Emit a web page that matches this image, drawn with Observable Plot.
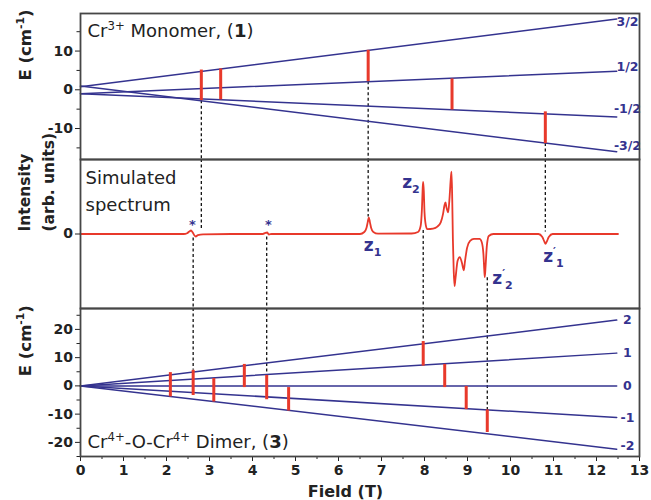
<!DOCTYPE html>
<html><head><meta charset="utf-8">
<script src="https://cdn.jsdelivr.net/npm/d3@7"></script>
<script src="https://cdn.jsdelivr.net/npm/@observablehq/plot@0.6"></script>
<style>
body{margin:0;background:#fff;}
#chart{position:relative;width:651px;height:500px;overflow:hidden;}
#chart > div{position:absolute;left:0;}
</style></head><body><div id="chart"></div>
<script>
// ---------------- data ----------------
const fieldDomain = [0, 13];
const levelEndField = 12.47;
const levelLabelField = 12.72;
const xTicks = [0,1,2,3,4,5,6,7,8,9,10,11,12,13];
const xMinor = [0.5,1.5,2.5,3.5,4.5,5.5,6.5,7.5,8.5,9.5,10.5,11.5,12.5];

// Cr3+ monomer (top panel)
const monoDomain = [-18, 19.7];
const monoTicks = [-10, 0, 10];
const monoMinor = [-15, -5, 5, 15];
const monoLevels = ["3/2", "1/2", "-1/2", "-3/2"];
const monoE0 = [0.8, -1.0, -1.0, 1.0];
const monoE1 = [18.3, 4.8, -7.0, -16.0];
const monoLabelE = [17.4, 5.8, -4.9, -14.4];
const monoBarField = [2.81, 3.26, 6.69, 8.64, 10.81];
const monoBarHigh = [5.1, 5.4, 10.2, 2.8, -5.7];
const monoBarLow = [-2.8, -2.6, 2.1, -5.2, -13.9];

// simulated spectrum (middle panel)
const specDomain = [-75, 75];
const specTicks = [0];
const specField = [0, 2.40, 2.48, 2.53, 2.57, 2.61, 2.65, 2.68, 2.73, 2.85, 3.5, 4.24, 4.30, 4.34, 4.38, 4.45,
  6.50, 6.60, 6.65, 6.68, 6.705, 6.73, 6.76, 6.81, 6.92,
  7.70, 7.85, 7.91, 7.94, 7.96, 7.97, 7.985, 8.00, 8.03, 8.063, 8.20, 8.30, 8.38, 8.43, 8.465, 8.488, 8.51, 8.551,
  8.58, 8.61, 8.628, 8.645, 8.66, 8.68, 8.698, 8.72, 8.77, 8.821, 8.87, 8.914, 8.94, 8.99, 9.06, 9.15, 9.28,
  9.33, 9.37, 9.39, 9.402, 9.42, 9.45, 9.495, 9.60, 10.65, 10.74, 10.79, 10.814, 10.84, 10.89, 10.98, 12.5];
const specIntensity = [0, 0, 0.8, 2.5, 3.5, 1.5, -1.5, -2.5, -1.2, -0.3, 0, 0, 1.2, 1.5, -0.5, 0,
  0, 2, 6, 12, 16.6, 12, 6, 2, 0.3,
  0.5, 2, 8, 25, 48, 52.5, 42, 22, 9, 5, 5.5, 7.5, 12, 20, 29, 31.8, 27, 21.8,
  35, 55, 62.8, 35, -5, -38, -52.5, -45, -27, -23.2, -29, -36.5, -28, -14, -7, -5, -5,
  -8, -20, -36, -43.4, -33, -12, -2, 0, 0, -3, -8, -10, -8, -3, 0, 0];
const starField = [2.60, 4.37];
const starIntensity = [9.5, 9.5];
const peakLabels = ["z_{1}", "z_{2}", "z^{′}_{2}", "z^{′}_{1}"];
const peakLabelField = [6.59, 7.48, 9.575, 10.76];
const peakLabelIntensity = [-11.5, 51.8, -44.8, -23.2];

// Cr4+-O-Cr4+ dimer (bottom panel)
const dimerDomain = [-25, 27.4];
const dimerTicks = [-20, -10, 0, 10, 20];
const dimerMinor = [-25, -15, -5, 5, 15, 25];
const dimerLevels = ["2", "1", "0", "-1", "-2"];
const dimerE0 = [0, 0, 0, 0, 0];
const dimerE1 = [23.3, 11.6, 0, -11.2, -22.4];
const dimerLabelE = [23.2, 11.6, -0.2, -11.5, -21.3];
const dimerBarField = [2.09, 2.62, 3.10, 3.81, 4.33, 4.84, 7.97, 8.47, 8.97, 9.46];
const dimerBarHigh = [4.7, 5.5, 2.6, 7.6, 3.7, -0.6, 15.7, 7.6, -0.2, -8.5];
const dimerBarLow = [-3.9, -3.4, -5.7, -0.6, -4.9, -8.9, 7.0, -0.6, -8.4, -16.5];

// dashed links between panels
const linkUpField = [2.81, 6.69, 10.81];
const linkUpEnergy = [-2.8, 2.1, -13.9];
const linkUpIntensity = [5, 17, 2];
const linkDownField = [2.62, 4.33, 7.97, 9.46];
const linkDownIntensity = [-4, -3, 3.5, -44];
const linkDownEnergy = [5.5, 3.7, 15.7, -8.5];

// ---------------- styling ----------------
const W = 651, ML = 80, MR = 12;
const FONT = '"DejaVu Sans", "Liberation Sans", Arial, sans-serif';
const NAVY = "#34338f", RED = "#e8392b", INK = "#222", FRAME = "#464646";
const baseStyle = {background: "transparent", overflow: "visible", fontFamily: FONT, color: INK};
const dash = {stroke: "#111", strokeDasharray: "3,2.5", strokeWidth: 1.3};
const fmt = d => String(d);

function levelRows(levels, e0, e1) {
  return levels.flatMap((l, i) => [{level: l, field: 0, E: e0[i]}, {level: l, field: levelEndField, E: e1[i]}]);
}

function rich(svg) {
  d3.select(svg).selectAll("text").each(function () {
    const s = this.textContent;
    if (!/\^\{|_\{|\*\*/.test(s)) return;
    const parts = s.split(/(\^\{[^}]*\}|_\{[^}]*\}|\*\*[^*]+\*\*)/).filter(p => p !== "");
    this.textContent = "";
    let cur = 0;
    const small = 0.65;
    for (const p of parts) {
      let txt = p, size = 1, tgt = 0, bold = false;
      if (p.startsWith("^{")) { txt = p.slice(2, -1); size = small; tgt = -0.42; }
      else if (p.startsWith("_{")) { txt = p.slice(2, -1); size = small; tgt = 0.28; }
      else if (p.startsWith("**")) { txt = p.slice(2, -2); bold = true; }
      const ts = d3.select(this).append("tspan").text(txt);
      if (size !== 1) ts.attr("font-size", `${size * 100}%`);
      if (tgt !== cur) ts.attr("dy", `${((tgt - cur) / size).toFixed(3)}em`);
      if (bold) ts.attr("font-weight", "bold");
      cur = tgt;
    }
  });
}

const chart = document.getElementById("chart");
function place(svg, top) {
  const d = document.createElement("div");
  d.style.top = top + "px";
  d.appendChild(svg);
  chart.appendChild(d);
  rich(svg);
}

// ---------------- top panel ----------------
const topPlot = Plot.plot({
  width: W, height: 164, marginLeft: ML, marginRight: MR, marginTop: 13, marginBottom: 5,
  style: baseStyle,
  x: {domain: fieldDomain, axis: null},
  y: {domain: monoDomain},
  marks: [
    Plot.ruleX(linkUpField, {x: d => d, y1: (d, i) => linkUpEnergy[i], y2: () => monoDomain[0], ...dash}),
    Plot.line(levelRows(monoLevels, monoE0, monoE1), {x: "field", y: "E", z: "level", stroke: NAVY, strokeWidth: 1.5}),
    Plot.ruleX(monoBarField, {x: d => d, y1: (d, i) => monoBarHigh[i], y2: (d, i) => monoBarLow[i], stroke: RED, strokeWidth: 3}),
    Plot.text(monoLevels, {x: () => levelLabelField, y: (d, i) => monoLabelE[i], text: d => d, fill: NAVY, fontWeight: "bold", fontSize: 12.5}),
    Plot.axisY(monoTicks, {tickSize: 5, tickPadding: 2.5, fontSize: 14, fontWeight: "bold", tickFormat: fmt, label: null}),
    Plot.axisY(monoMinor, {tickSize: 3.5, tickFormat: () => "", label: null}),
    Plot.frame({stroke: FRAME, strokeWidth: 1.8}),
    Plot.text(["Cr^{3+} Monomer, (**1**)"], {text: d => d, frameAnchor: "top-left", dx: 7, dy: 23.7, lineAnchor: "bottom", textAnchor: "start", fontSize: 18, fill: INK}),
    Plot.text(["E (cm^{-1})"], {text: d => d, frameAnchor: "left", dx: -55, dy: -6, rotate: -90, fontSize: 16.5, fontWeight: "bold", fill: INK})
  ]
});
place(topPlot, 0);

// ---------------- middle panel ----------------
const specRows = specField.map((f, i) => ({field: f, I: specIntensity[i]}));
const midPlot = Plot.plot({
  width: W, height: 159, marginLeft: ML, marginRight: MR, marginTop: 5, marginBottom: 5,
  style: baseStyle,
  x: {domain: fieldDomain, axis: null},
  y: {domain: specDomain},
  marks: [
    Plot.ruleX(linkUpField, {x: d => d, y1: () => specDomain[1], y2: (d, i) => linkUpIntensity[i], ...dash}),
    Plot.ruleX(linkDownField, {x: d => d, y1: (d, i) => linkDownIntensity[i], y2: () => specDomain[0], ...dash}),
    Plot.line(specRows, {x: "field", y: "I", stroke: RED, strokeWidth: 1.8, curve: "monotone-x"}),
    Plot.text(starField, {x: d => d, y: (d, i) => starIntensity[i], text: () => "*", fill: NAVY, fontWeight: "bold", fontSize: 13}),
    Plot.text(peakLabels, {x: (d, i) => peakLabelField[i], y: (d, i) => peakLabelIntensity[i], text: d => d, textAnchor: "start", fill: NAVY, fontWeight: "bold", fontSize: 17}),
    Plot.axisY(specTicks, {tickSize: 5, tickPadding: 2.5, fontSize: 14, fontWeight: "bold", tickFormat: fmt, label: null}),
    Plot.frame({stroke: FRAME, strokeWidth: 1.8}),
    Plot.text(["Simulated\nspectrum"], {text: d => d, frameAnchor: "top-left", dx: 5, dy: 51, lineAnchor: "bottom", textAnchor: "start", lineHeight: 1.5, fontSize: 18, fill: INK}),
    Plot.text(["Intensity\n(arb. units)"], {text: d => d, frameAnchor: "left", dx: -46.5, dy: -2.5, rotate: -90, lineHeight: 1.6, fontSize: 15.5, fontWeight: "bold", fill: INK})
  ]
});
place(midPlot, 154);

// ---------------- bottom panel ----------------
const botPlot = Plot.plot({
  width: W, height: 197, marginLeft: ML, marginRight: MR, marginTop: 5, marginBottom: 44,
  style: baseStyle,
  x: {domain: fieldDomain},
  y: {domain: dimerDomain},
  marks: [
    Plot.ruleX(linkDownField, {x: d => d, y1: () => dimerDomain[1], y2: (d, i) => linkDownEnergy[i], ...dash}),
    Plot.line(levelRows(dimerLevels, dimerE0, dimerE1), {x: "field", y: "E", z: "level", stroke: NAVY, strokeWidth: 1.5}),
    Plot.ruleX(dimerBarField, {x: d => d, y1: (d, i) => dimerBarHigh[i], y2: (d, i) => dimerBarLow[i], stroke: RED, strokeWidth: 3}),
    Plot.text(dimerLevels, {x: () => levelLabelField, y: (d, i) => dimerLabelE[i], text: d => d, fill: NAVY, fontWeight: "bold", fontSize: 12.5}),
    Plot.axisY(dimerTicks, {tickSize: 5, tickPadding: 2.5, fontSize: 14, fontWeight: "bold", tickFormat: fmt, label: null}),
    Plot.axisY(dimerMinor, {tickSize: 3.5, tickFormat: () => "", label: null}),
    Plot.axisX(xTicks, {tickSize: 5, tickPadding: 4, fontSize: 14, fontWeight: "bold", tickFormat: fmt, label: null}),
    Plot.axisX(xMinor, {tickSize: 3, tickFormat: () => "", label: null}),
    Plot.frame({stroke: FRAME, strokeWidth: 1.8}),
    Plot.text(["Cr^{4+}-O-Cr^{4+} Dimer, (**3**)"], {text: d => d, frameAnchor: "bottom-left", dx: 7, dy: -8.3, lineAnchor: "bottom", textAnchor: "start", fontSize: 18, fill: INK}),
    Plot.text(["E (cm^{-1})"], {text: d => d, frameAnchor: "left", dx: -55, dy: -6.3, rotate: -90, fontSize: 16.5, fontWeight: "bold", fill: INK}),
    Plot.text(["Field (T)"], {text: d => d, frameAnchor: "bottom", dx: -14.5, dy: 40.7, lineAnchor: "bottom", fontSize: 16, fontWeight: "bold", fill: INK})
  ]
});
place(botPlot, 303);
</script></body></html>
